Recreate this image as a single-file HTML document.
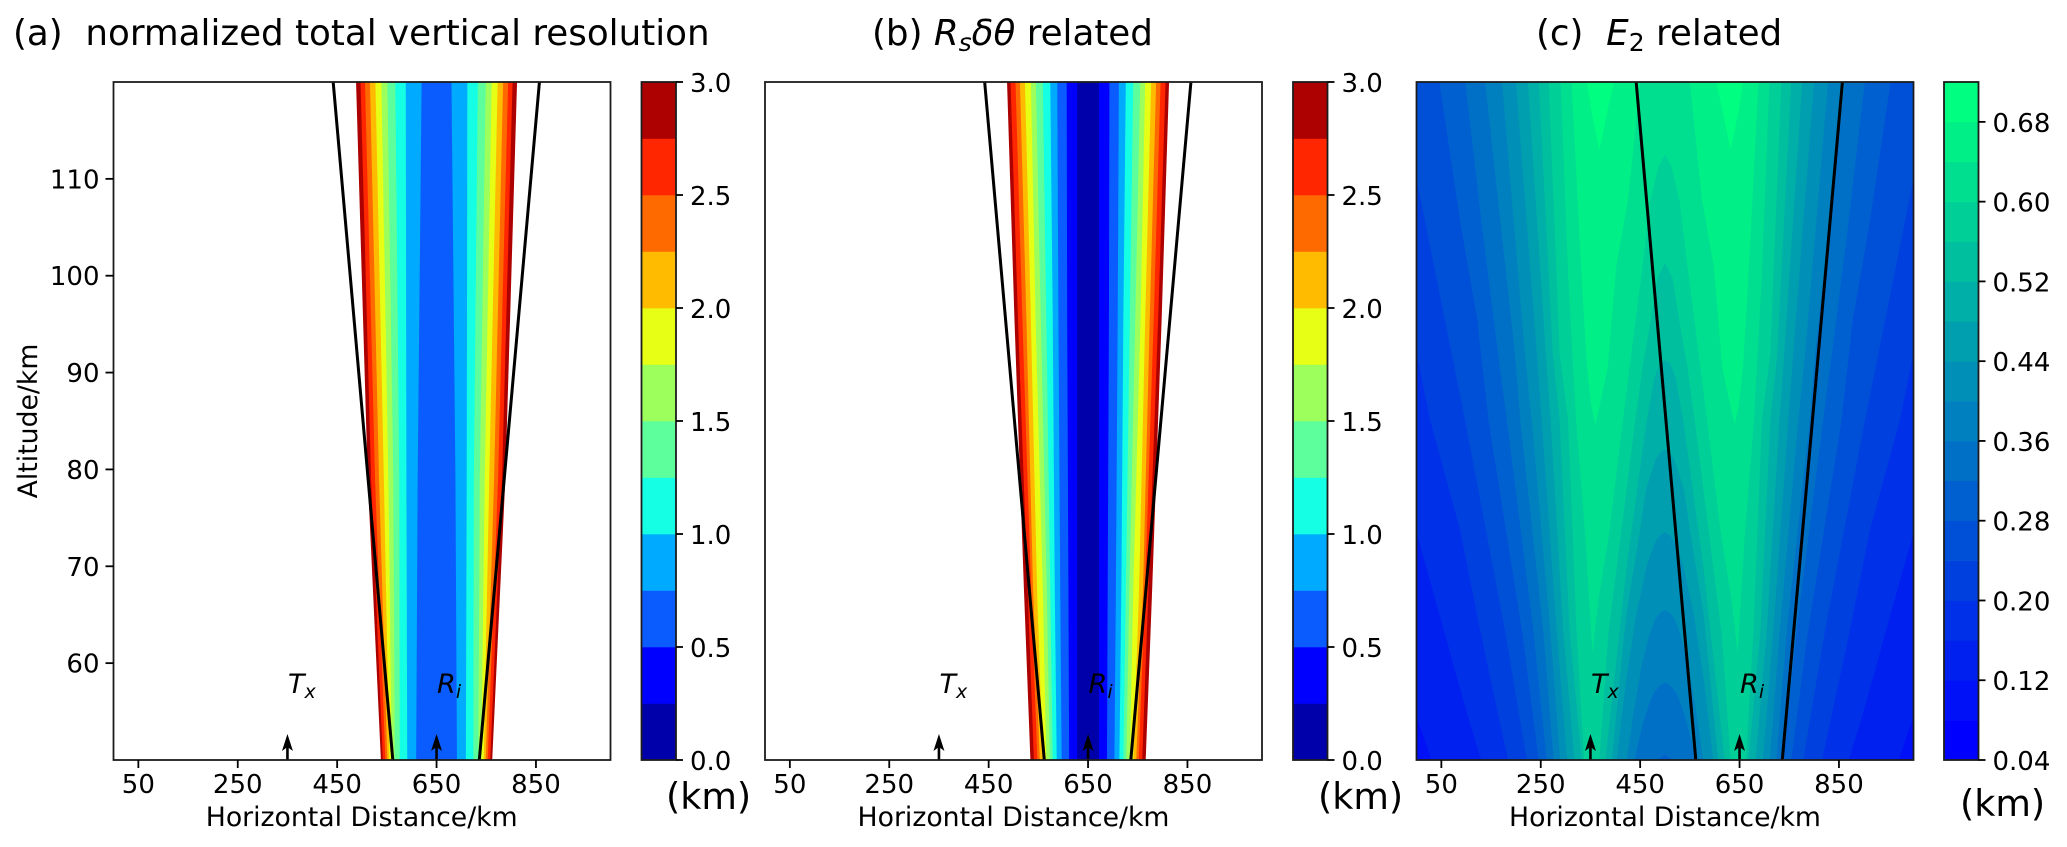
<!DOCTYPE html>
<html lang="en">
<head>
<meta charset="utf-8">
<title>Vertical resolution panels</title>
<style>
html,body{margin:0;padding:0;background:#fff;}
svg{display:block;font-family:"DejaVu Sans","Liberation Sans",sans-serif;fill:#000;}
.title{font-size:35.7px;}
.tsub{font-size:25px;}
.tick{font-size:26px;}
.cbtick{font-size:26px;}
.axlabel{font-size:26.7px;}
.unit{font-size:36.5px;}
.anno{font-size:27px;font-style:italic;}
.sub{font-size:19px;}
</style>
</head>
<body>
<svg id="fig" width="2067" height="847" viewBox="0 0 2067 847" xmlns="http://www.w3.org/2000/svg">
  <rect width="2067" height="847" fill="#fff"></rect>
  <g id="layer"></g>
  <text class="title" x="13" y="45" xml:space="preserve">(a)  normalized total vertical resolution</text>
  <text class="title" x="872" y="45" xml:space="preserve">(b) <tspan font-style="italic">R</tspan><tspan class="tsub" dy="6" font-style="italic">s</tspan><tspan dy="-6" font-style="italic">δθ</tspan> related</text>
  <text class="title" x="1536" y="45" xml:space="preserve">(c)  <tspan font-style="italic">E</tspan><tspan class="tsub" dy="6">2</tspan><tspan dy="-6"> related</tspan></text>
  <text class="axlabel" text-anchor="middle" transform="translate(37,421) rotate(-90)">Altitude/km</text>
  <text class="axlabel" text-anchor="middle" x="361.7" y="826">Horizontal Distance/km</text>
  <text class="axlabel" text-anchor="middle" x="1013.5" y="826">Horizontal Distance/km</text>
  <text class="axlabel" text-anchor="middle" x="1665" y="826">Horizontal Distance/km</text>
  <text class="unit" x="666" y="809">(km)</text>
  <text class="unit" x="1318" y="809">(km)</text>
  <text class="unit" x="1960" y="816">(km)</text>
</svg>
<script>
// ---------- shared axis data ----------
const xTickValues = [50, 250, 450, 650, 850];
const yTickValues = [60, 70, 80, 90, 100, 110];
const transmitterKm = 350;
const receiverKm = 650;
const centerKm = 650;
const rayLeftKm = [442, 562];
const rayRightKm = [857, 736];
const rayAltitudes = [120, 50];

// ---------- panels (a) and (b): half-width of each resolution contour around the receiver ----------
const jetBandColors = ['#0000aa','#0000ff','#0a5cff','#00aaff','#14ffe3','#5cff9c','#9cff5c','#e6ff14','#ffbb00','#ff6a00','#ff2600','#ad0000'];
const jetBandEdges = [0, 0.25, 0.5, 0.75, 1, 1.25, 1.5, 1.75, 2, 2.25, 2.5, 2.75, 3];
const jetTickValues = [0, 0.5, 1, 1.5, 2, 2.5, 3];

const panelAAltitudes = [120, 79, 50];
const panelALevels = [0.75, 1, 1.25, 1.5, 1.75, 2, 2.25, 2.5, 2.75, 3];
const panelAHalfWidths = [
  [30, 38, 41], [62, 60.7, 59], [83, 75, 74], [99, 87, 84], [111, 97, 90],
  [123, 106, 95], [134, 115.7, 99], [144, 123.7, 103], [153, 131.7, 108], [162, 138.4, 112]
];
const panelBAltitudes = [120, 95.4, 67.6, 50];
const panelBLevels = [0.25, 0.5, 0.75, 1, 1.25, 1.5, 1.75, 2, 2.25, 2.5, 2.75, 3];
const panelBHalfWidths = [
  [22, 22, 22, 22], [43, 42, 39.5, 38], [62, 59.6, 56, 53], [76, 71, 67, 63],
  [91, 84, 76, 71], [105, 95, 83, 77], [115, 105.5, 91, 84], [127, 115, 102.6, 91],
  [137, 124, 110.6, 97], [146, 132, 114.6, 102], [156, 141, 121.5, 109], [163, 148, 129, 116]
];

// ---------- panel (c): left half of each contour as [distance km, altitude km]; right half mirrors about 500 km ----------
const winterBandEdges = [0.04,0.08,0.12,0.16,0.2,0.24,0.28,0.32,0.36,0.4,0.44,0.48,0.52,0.56,0.6,0.64,0.68,0.72];
const winterTickValues = [0.04,0.12,0.2,0.28,0.36,0.44,0.52,0.6,0.68];
const contour012 = [[0,120],[0,54.5],[30,50],[500,50]];
const contour016 = [[0,120],[0,73.5],[55,63.4],[95,56],[130,50],[500,50]];
const contour020 = [[0,120],[0,92],[27.8,85],[87.5,73.8],[128,63.4],[184,50],[500,50]];
const contour024 = [[0,120],[0,110],[98,85],[178,63.4],[222,50],[500,50]];
const contour028 = [[46,120],[87.5,105.7],[122,95.5],[145,85],[212,63.4],[246,50],[500,50]];
const contour032 = [[98,120],[132,105],[164,92],[182,85],[235,63.4],[262,50],[486,50],[500,50.6]];
const contour036 = [[138,120],[198,92],[209,85],[255,63.4],[276,50],[439,50],[447,52],[457,54],[469.5,56],[478,57],[490,57.7],[500,58]];
const contour040 = [[172,120],[218,92],[232,85],[269,63.4],[289,50],[423,50],[437,55],[454,60],[469,63],[480,64.5],[490,65.2],[500,65.5]];
const contour044 = [[200,120],[242,92],[252,85],[282,63.4],[303,50],[403,50],[421,58],[442,65],[463,70],[480,72.5],[490,73.2],[500,73.5]];
const contour048 = [[224,120],[260,92],[270,85],[295,63.4],[318,50],[393,50],[422,65],[449,73.5],[462,78],[481,81],[491,81.8],[500,82]];
const contour052 = [[246,120],[274,92],[288,85],[308,63.4],[332,50],[380,50],[423,70],[463,85],[479,89.5],[490,91],[500,91.3]];
const contour056 = [[266,120],[288,92],[305,85],[322,63.4],[337,50],[368,50],[386,63],[440,85],[455,90.6],[470,95],[485,99.8],[500,101.3]];
const contour060 = [[290,120],[305,100],[321,85],[339,73.5],[348,66],[354,61],[366,66.5],[388,73.5],[420,87],[455,101],[471,107.8],[487,111.3],[500,112.5]];
const contour064 = [[312,120],[322,110],[331,101],[343,90.6],[352,86.5],[360,84.6],[366,86],[385,90.6],[402,101],[426,108],[450,120]];
const contour068 = [[343,120],[352,117],[362,114.5],[368,113],[374,114.5],[384,117],[397,120]];
const contourLevels = [0.12,0.16,0.2,0.24,0.28,0.32,0.36,0.4,0.44,0.48,0.52,0.56,0.6,0.64,0.68];
const contourOutlines = [contour012,contour016,contour020,contour024,contour028,contour032,contour036,contour040,contour044,contour048,contour052,contour056,contour060,contour064,contour068];

// ---------- layout ----------
const NS = 'http://www.w3.org/2000/svg';
const layer = document.getElementById('layer');
const TOP = 82, BOTTOM = 760, PANEL_W = 497;
const X_MAX = 1000, Y_MIN = 50, Y_MAX = 120;
const panelLefts = {a: 113.5, b: 765, c: 1416.5};
const barLefts = {a: 641.5, b: 1293, c: 1944};
const BAR_W = 34.5;

function yScale(alt) { return BOTTOM - (alt - Y_MIN) / (Y_MAX - Y_MIN) * (BOTTOM - TOP); }
function xScale(panel, km) { return panelLefts[panel] + km / X_MAX * PANEL_W; }
function make(tag, attrs, parent) {
  const el = document.createElementNS(NS, tag);
  for (const k in attrs) el.setAttribute(k, attrs[k]);
  (parent || layer).appendChild(el);
  return el;
}
function pathFrom(panel, pts) {
  return 'M' + pts.map(p => xScale(panel, p[0]).toFixed(2) + ' ' + yScale(p[1]).toFixed(2)).join('L') + 'Z';
}
function winterColor(edgeIndex) {
  const g = edgeIndex / 16;
  return 'rgb(0,' + Math.round(g * 255) + ',' + Math.round(255 * (1 - g / 2)) + ')';
}

// ---------- band fields ----------
function drawHalfWidthField(panel, alts, levels, widths) {
  for (let i = levels.length - 1; i >= 0; i--) {
    const left = alts.map((a, j) => [centerKm - widths[i][j], a]);
    const right = alts.map((a, j) => [centerKm + widths[i][j], a]).reverse();
    const bandIndex = jetBandEdges.indexOf(levels[i]) - 1;
    const el = make('path', {d: pathFrom(panel, left.concat(right)), fill: jetBandColors[bandIndex]});
    
    
  }
}
drawHalfWidthField('a', panelAAltitudes, panelALevels, panelAHalfWidths);
drawHalfWidthField('b', panelBAltitudes, panelBLevels, panelBHalfWidths);

const baseBand = make('rect', {x: panelLefts.c, y: TOP, width: PANEL_W, height: BOTTOM - TOP, fill: winterColor(1)});


contourOutlines.forEach((half, i) => {
  const mirrored = half.map(p => [X_MAX - p[0], p[1]]).reverse();
  const last = half[half.length - 1];
  const d = last[0] === X_MAX / 2
    ? pathFrom('c', half.concat(mirrored.slice(1)))
    : pathFrom('c', half) + pathFrom('c', mirrored);
  const el = make('path', {d: d, fill: winterColor(winterBandEdges.indexOf(contourLevels[i]))});
  
  
});

// ---------- overlays, axes ----------
['a', 'b', 'c'].forEach(panel => {
  const L = panelLefts[panel], R = L + PANEL_W;
  [rayLeftKm, rayRightKm].forEach((ray, idx) => {
    const line = make('line', {
      x1: xScale(panel, ray[0]), y1: yScale(rayAltitudes[0]),
      x2: xScale(panel, ray[1]), y2: yScale(rayAltitudes[1]),
      stroke: '#000', 'stroke-width': 3
    });
    
    
  });
  [[transmitterKm, 'T', 'x'], [receiverKm, 'R', 'i']].forEach(site => {
    const cx = xScale(panel, site[0]);
    const shaft = make('line', {x1: cx, y1: BOTTOM, x2: cx, y2: 746, stroke: '#000', 'stroke-width': 2.6});
    
    
    const head = make('path', {d: 'M' + cx + ' 734L' + (cx + 5.5) + ' 751L' + cx + ' 747L' + (cx - 5.5) + ' 751Z', fill: '#000'});
    
    
    const t = make('text', {x: cx + 0.5, y: 693, class: 'anno'});
    
    
    t.appendChild(document.createTextNode(site[1]));
    const s = make('tspan', {class: 'sub', dy: 5}, t);
    s.textContent = site[2];
  });
  const frame = make('rect', {x: L, y: TOP, width: PANEL_W, height: BOTTOM - TOP, fill: 'none', stroke: '#1c1c1c', 'stroke-width': 1.8});
  
  
  xTickValues.forEach(v => {
    const x = xScale(panel, v);
    const tick = make('line', {x1: x, x2: x, y1: BOTTOM, y2: BOTTOM + 8, stroke: '#000', 'stroke-width': 1.8});
    
    
    const label = make('text', {x: x, y: 793, class: 'tick', 'text-anchor': 'middle'});
    
    
    label.textContent = v;
  });
  if (panel === 'a') {
    yTickValues.forEach(v => {
      const y = yScale(v);
      const tick = make('line', {x1: L - 8, x2: L, y1: y, y2: y, stroke: '#000', 'stroke-width': 1.8});
      
      
      const label = make('text', {x: L - 14, y: y + 9.5, class: 'tick', 'text-anchor': 'end'});
      
      
      label.textContent = v;
    });
  }
});

// ---------- colorbars ----------
function drawColorbar(panel, edges, colorAt, ticks, digits) {
  const B = barLefts[panel];
  const lo = edges[0], hi = edges[edges.length - 1];
  const vy = v => BOTTOM - (v - lo) / (hi - lo) * (BOTTOM - TOP);
  for (let i = 0; i < edges.length - 1; i++) {
    const band = make('rect', {x: B, y: vy(edges[i + 1]), width: BAR_W, height: vy(edges[i]) - vy(edges[i + 1]) + 0.3, fill: colorAt(i)});
    
    
  }
  const outline = make('rect', {x: B, y: TOP, width: BAR_W, height: BOTTOM - TOP, fill: 'none', stroke: '#1c1c1c', 'stroke-width': 1.8});
  
  
  ticks.forEach(v => {
    const y = vy(v);
    const tick = make('line', {x1: B + BAR_W, x2: B + BAR_W + 7, y1: y, y2: y, stroke: '#000', 'stroke-width': 1.8});
    
    
    const label = make('text', {x: B + BAR_W + 14, y: y + 10, class: 'cbtick'});
    
    
    label.textContent = v.toFixed(digits);
  });
}
drawColorbar('a', jetBandEdges, i => jetBandColors[i], jetTickValues, 1);
drawColorbar('b', jetBandEdges, i => jetBandColors[i], jetTickValues, 1);
drawColorbar('c', winterBandEdges, winterColor, winterTickValues, 2);
</script>
</body>
</html>
